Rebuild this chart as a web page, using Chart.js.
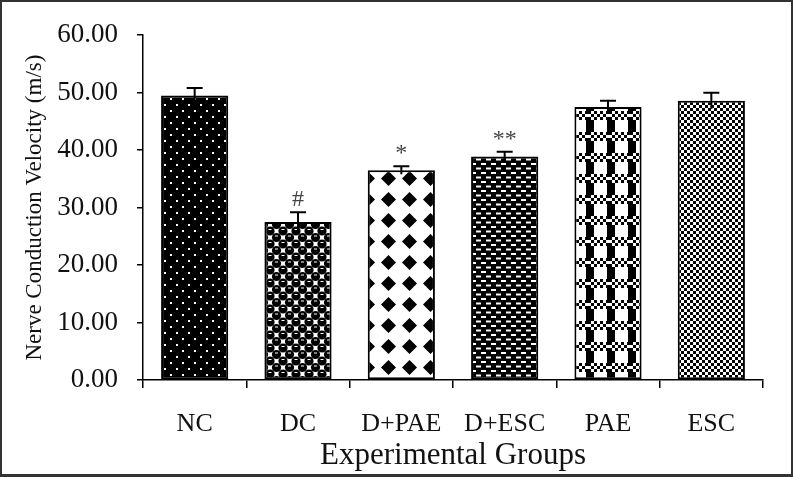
<!DOCTYPE html>
<html lang="en">
<head>
<script src="https://cdn.jsdelivr.net/npm/chart.js@4.4.0/dist/chart.umd.min.js"></script>
<style>
  body { margin: 0; background: #fff; }
  #wrap { width: 793px; height: 477px; }
</style>
</head>
<body>
<div id="wrap"><canvas id="myChart" width="793" height="477"></canvas></div>
<script>
// values
const groups = ['NC', 'DC', 'D+PAE', 'D+ESC', 'PAE', 'ESC'];
const velocity = [49.5, 27.5, 36.5, 38.9, 47.5, 48.6];
const errors = [1.3, 1.7, 0.7, 0.8, 1.1, 1.4];
const marks = ['', '#', '*', '**', '', ''];
const yTicks = [0, 10, 20, 30, 40, 50, 60];

const serif = 'Liberation Serif';

// little tiles for the black and white fills
function tile(w, h, draw) {
    const c = document.createElement('canvas');
    c.width = w; c.height = h;
    const g = c.getContext('2d');
    draw(g, w, h);
    return document.getElementById('myChart').getContext('2d').createPattern(c, 'repeat');
}

const fills = [
    // NC: black with white dots
    tile(12, 12, (g) => {
        g.fillStyle = '#000'; g.fillRect(0, 0, 12, 12);
        g.fillStyle = '#fff';
        g.fillRect(2, 2, 2, 2); g.fillRect(8, 8, 2, 2);
    }),
    // DC: round black cells on white
    tile(13, 13, (g) => {
        g.fillStyle = '#fff'; g.fillRect(0, 0, 13, 13);
        g.fillStyle = '#000';
        [[3.5, 3.5], [10, 10]].forEach(([cx, cy]) => {
            for (let dx = -13; dx <= 13; dx += 13) {
                for (let dy = -13; dy <= 13; dy += 13) {
                    g.beginPath(); g.arc(cx + dx, cy + dy, 4.6, 0, Math.PI * 2); g.fill();
                }
            }
        });
        g.fillStyle = '#fff';
        g.fillRect(2, 1.5, 3, 1); g.fillRect(8.5, 8, 3, 1);
    }),
    // D+PAE: diamonds
    tile(21, 21, (g) => {
        g.fillStyle = '#fff'; g.fillRect(0, 0, 21, 21);
        g.fillStyle = '#000';
        g.beginPath();
        g.moveTo(10.5, 3); g.lineTo(18, 10.5); g.lineTo(10.5, 18); g.lineTo(3, 10.5);
        g.closePath(); g.fill();
    }),
    // D+ESC: black with white dashes
    tile(10, 9, (g) => {
        g.fillStyle = '#000'; g.fillRect(0, 0, 10, 9);
        g.fillStyle = '#fff';
        g.fillRect(1, 1, 5, 2); g.fillRect(6, 5.5, 5, 2); g.fillRect(-4, 5.5, 5, 2);
    }),
    // PAE: stripes with checker bands
    tile(21, 21, (g) => {
        g.fillStyle = '#fff'; g.fillRect(0, 0, 21, 21);
        g.fillStyle = '#000';
        g.fillRect(19, 0, 2, 21); g.fillRect(0, 0, 6, 21);
        g.fillStyle = '#fff'; g.fillRect(0, 6, 21, 9);
        g.fillStyle = '#000';
        for (let i = 0; i < 7; i++) {
            for (let j = 0; j < 3; j++) {
                if ((i + j) % 2 === 0) g.fillRect(i * 3, 6 + j * 3, 3, 3);
            }
        }
    }),
    // ESC: small checkerboard
    tile(6, 6, (g) => {
        g.fillStyle = '#fff'; g.fillRect(0, 0, 6, 6);
        g.fillStyle = '#000';
        g.fillRect(0, 0, 3, 3); g.fillRect(3, 3, 3, 3);
    })
];

const errorBars = {
    id: 'errorBars',
    afterDatasetsDraw(chart) {
        const ctx = chart.ctx;
        const y = chart.scales.y;
        const meta = chart.getDatasetMeta(0);
        ctx.save();
        ctx.strokeStyle = '#000';
        ctx.lineWidth = 2;
        meta.data.forEach((bar, i) => {
            const top = y.getPixelForValue(velocity[i] + errors[i]);
            const bot = y.getPixelForValue(velocity[i] - errors[i]);
            ctx.beginPath();
            ctx.moveTo(bar.x, bot); ctx.lineTo(bar.x, top);
            ctx.moveTo(bar.x - 8, top); ctx.lineTo(bar.x + 8, top);
            ctx.stroke();
            if (marks[i]) {
                ctx.fillStyle = '#444';
                ctx.font = '24px ' + serif;
                ctx.textAlign = 'center';
                ctx.textBaseline = 'alphabetic';
                ctx.fillText(marks[i], bar.x, top - 6);
            }
        });
        ctx.restore();
    }
};

const frame = {
    id: 'frame',
    afterDraw(chart) {
        const ctx = chart.ctx;
        ctx.save();
        ctx.strokeStyle = '#333';
        ctx.lineWidth = 2;
        ctx.strokeRect(1, 1, chart.width - 2, chart.height - 2);
        ctx.fillStyle = '#333';
        ctx.fillRect(0, chart.height - 3, chart.width, 3);
        ctx.restore();
    }
};

const ctx = document.getElementById('myChart').getContext('2d');

const myChart = new Chart(ctx, {
    type: 'bar',
    data: {
        labels: groups,
        datasets: [{
            data: velocity,
            backgroundColor: fills,
            borderColor: '#000',
            borderWidth: 2,
            borderSkipped: false,
            barPercentage: 0.65,
            categoryPercentage: 1
        }]
    },
    options: {
        responsive: false,
        animation: false,
        devicePixelRatio: 1,
        layout: { padding: { top: 30, right: 30, left: 0, bottom: 0 } },
        plugins: {
            legend: { display: false },
            tooltip: { enabled: false }
        },
        scales: {
            x: {
                afterFit: (s) => { s.height = 97; },
                grid: {
                    offset: true,
                    drawOnChartArea: false,
                    tickLength: 8,
                    color: '#000',
                    lineWidth: 1.5
                },
                border: { color: '#000', width: 1.5 },
                ticks: {
                    color: '#111',
                    padding: 21,
                    font: { family: serif, size: 26 }
                },
                title: {
                    display: true,
                    text: 'Experimental Groups',
                    color: '#111',
                    font: { family: serif, size: 31 },
                    padding: { top: 0, bottom: 3 }
                }
            },
            y: {
                min: 0,
                max: 60,
                afterFit: (s) => { s.width = 143; },
                afterBuildTicks: (s) => { s.ticks = yTicks.map(v => ({ value: v })); },
                grid: {
                    drawOnChartArea: false,
                    tickLength: 6,
                    color: '#000',
                    lineWidth: 1.5
                },
                border: { color: '#000', width: 1.5 },
                ticks: {
                    color: '#111',
                    padding: 19,
                    font: { family: serif, size: 27 },
                    callback: (v) => Number(v).toFixed(2)
                },
                title: {
                    display: true,
                    text: 'Nerve Conduction Velocity (m/s)',
                    color: '#111',
                    font: { family: serif, size: 23 },
                    padding: { top: 21, bottom: 0 }
                }
            }
        }
    },
    plugins: [errorBars, frame]
});
</script>
</body>
</html>
